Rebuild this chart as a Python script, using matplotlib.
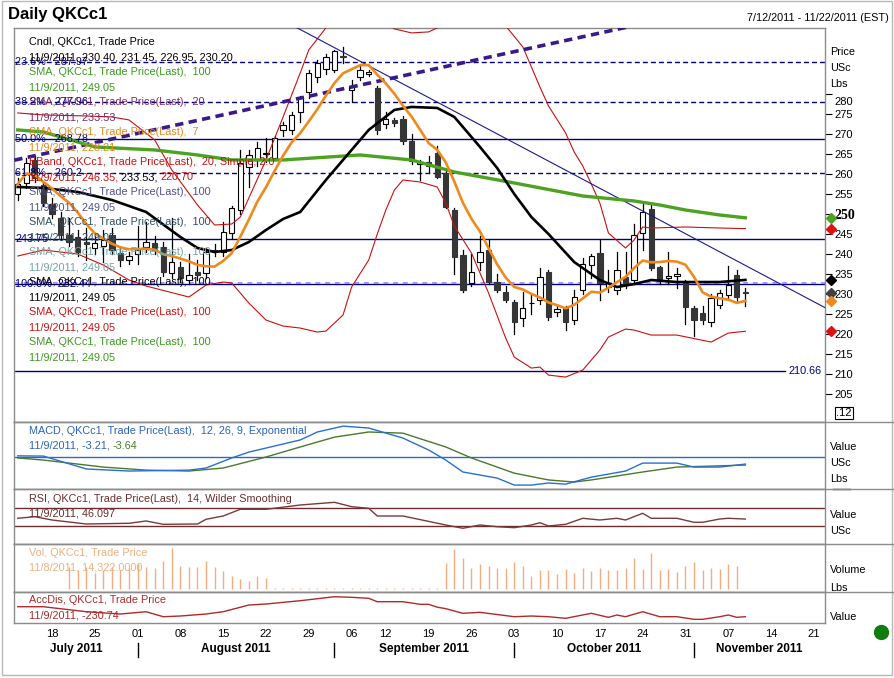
"""Daily QKCc1 candle chart with MACD, RSI, volume and AccDis panels."""
import numpy as np
import pandas as pd
import matplotlib
matplotlib.use("Agg")
import matplotlib.pyplot as plt
import matplotlib.transforms as mtransforms
from matplotlib.lines import Line2D
from matplotlib.patches import Rectangle

plt.rcParams["font.family"] = ["Liberation Sans", "DejaVu Sans"]

W, H = 895, 678

# --- trading days on the axis (Labor Day skipped) ---
days = pd.bdate_range("2011-07-12", "2011-11-22")
days = days[days != pd.Timestamp("2011-09-05")]

# --- daily candles, 7/12/2011 .. 11/9/2011 ---
opens = [255.0, 257.75, 263.5, 257.25, 252.5, 249.0, 244.75, 244.25, 243.0, 241.5,
         242.0, 244.75, 240.25, 238.5, 240.0, 241.75, 242.75, 241.75, 235.25, 236.75,
         233.5, 235.5, 235.25, 241.0, 240.5, 245.25, 251.0, 261.75, 263.5, 265.0,
         264.0, 271.0, 271.0, 275.5, 280.5, 284.25, 286.25, 286.0, 289.5, 281.0,
         284.25, 285.0, 281.5, 272.5, 273.5, 273.75, 268.25, 262.5, 263.0, 265.25,
         260.25, 251.0, 239.75, 232.75, 238.0, 241.0, 233.0, 230.5, 228.0, 224.0,
         227.75, 228.5, 235.5, 225.5, 226.5, 223.5, 231.0, 237.25, 240.25, 231.75,
         231.0, 234.25, 233.5, 245.25, 251.25, 236.75, 234.0, 234.5, 233.0, 226.5,
         225.25, 223.0, 227.25, 229.75, 234.75, 230.40]
highs = [259.0, 264.0, 264.5, 258.0, 254.0, 250.5, 249.0, 246.0, 246.5, 244.5,
         246.0, 246.5, 241.5, 240.5, 247.0, 248.0, 244.5, 243.0, 249.0, 238.0,
         240.0, 238.5, 241.5, 242.5, 248.0, 252.0, 266.0, 266.0, 268.0, 269.0,
         269.5, 273.0, 275.5, 279.5, 286.0, 288.5, 290.0, 291.0, 291.75, 283.5,
         287.0, 286.0, 282.0, 275.5, 274.0, 274.5, 270.0, 263.5, 264.5, 267.0,
         261.0, 251.5, 241.0, 240.0, 244.5, 243.5, 235.0, 232.0, 228.5, 230.5,
         230.0, 236.5, 236.0, 227.0, 227.0, 231.0, 239.0, 240.0, 243.5, 236.0,
         240.5, 240.5, 247.5, 252.5, 252.5, 237.0, 240.5, 236.5, 233.5, 227.0,
         227.0, 230.0, 231.0, 237.0, 236.0, 231.45]
lows = [253.5, 256.5, 258.0, 252.0, 249.0, 243.5, 242.0, 239.5, 238.5, 240.0,
        238.0, 240.0, 237.0, 237.5, 237.5, 240.5, 240.0, 234.5, 234.0, 233.0,
        232.5, 233.5, 234.0, 239.5, 239.5, 244.0, 250.0, 256.75, 262.0, 263.0,
        263.5, 269.5, 270.0, 273.0, 279.0, 283.0, 285.0, 285.5, 287.75, 278.0,
        283.5, 284.5, 270.0, 271.5, 272.0, 267.5, 262.5, 258.5, 260.5, 259.0,
        251.5, 235.0, 230.5, 232.0, 236.0, 232.5, 230.5, 228.0, 220.0, 222.0,
        225.0, 227.5, 223.5, 224.5, 221.0, 222.5, 230.0, 234.0, 228.5, 230.5,
        230.0, 231.5, 232.5, 241.0, 236.0, 232.5, 232.5, 231.5, 222.5, 219.5,
        222.5, 222.0, 226.5, 229.0, 228.0, 226.95]
closes = [257.5, 262.75, 259.0, 252.75, 250.0, 244.75, 243.0, 240.5, 242.5, 242.75,
          243.5, 241.0, 238.5, 239.5, 241.0, 243.0, 241.0, 235.5, 238.0, 234.0,
          234.75, 234.75, 240.5, 240.5, 245.5, 251.5, 262.75, 264.75, 266.5, 265.25,
          269.0, 272.25, 274.75, 279.0, 285.25, 287.75, 289.25, 290.75, 289.25, 282.0,
          286.0, 285.5, 271.0, 273.75, 272.75, 268.25, 263.25, 263.0, 262.0, 259.25,
          251.75, 239.25, 231.0, 235.5, 240.5, 233.0, 231.0, 228.5, 223.0, 226.5,
          227.75, 234.25, 224.25, 226.25, 223.0, 229.25, 237.5, 239.5, 232.75, 232.75,
          236.0, 232.25, 244.75, 250.5, 236.5, 233.25, 234.5, 235.0, 226.75, 223.5,
          223.5, 229.0, 230.25, 232.25, 229.25, 230.20]
nan = np.nan
volumes = [nan, nan, nan, nan, nan, nan,
           13700, 11700, 13700, 9650, 11700, 13700, 11700, 12700, 15200, 13700,
           12700, 17400, 25000, 14100, 13300, 13700, 17400, 13700, 11200, 8200,
           6150, 5100, 8200, 6950,
           400, 400, 400, 400, 400, 400, 400, 400, 400, 400,
           400, 400, 400, 400, 400, 400, 400, 400, 400, 400,
           15800, 24400, 19200, 13100, 15200, 14100, 13100, 13100, 16800, 14100,
           8200, 11700, 11700, 9000, 12300, 10000, 13100, 11100, 13100, 11700,
           11700, 12700, 19200, 12300, 21900, 11700, 12300, 10600, 14300, 16800,
           11700, 13100, 12300, 15200, 14322, nan]

# --- indicator values read at sample days (index into days) ---
sma20_day = [0, 3, 7, 11, 15, 19, 21, 23, 25, 27, 29, 31, 33, 36, 38, 39, 41, 44, 46,
             49, 51, 54, 56, 58, 60, 62, 65, 68, 70, 72, 74, 77, 82, 85]
sma20_val = [256.75, 256.5, 255.5, 253.5, 250.5, 244.25, 241.5, 240.5, 241.0, 243.0,
             246.0, 248.75, 250.5, 258.5, 263.5, 266.0, 271.0, 276.0, 276.75,
             276.5, 274.25, 266.75, 261.5, 255.0, 249.25, 245.0, 238.0, 233.5,
             231.75, 232.5, 233.5, 233.0, 233.0, 233.53]
sma100_day = [0, 3, 9, 16, 21, 25, 31, 36, 40, 46, 51, 58, 66, 72, 75, 78, 82, 85]
sma100_val = [271.0, 270.5, 266.75, 266.0, 264.75, 263.5, 263.5, 264.2, 264.75, 263.5,
              260.5, 257.75, 254.5, 253.25, 252.25, 251.0, 249.75, 249.05]
bb_up_day = [0, 3, 8, 11, 13, 16, 18, 21, 23, 25, 26, 29, 31, 33, 34, 36, 38, 40, 42,
             43, 44, 46, 48, 49, 51, 53, 55, 57, 59, 61, 62, 64, 65, 66, 67, 68, 69,
             71, 72, 73, 74, 78, 82, 85]
bb_up_val = [275.25, 274.75, 274.5, 274.25, 273.5, 268.5, 261.0, 252.25, 247.25, 247.5,
             249.25, 263.5, 274.25, 285.25, 291.0, 296.5, 301.0, 302.0, 300.0, 298.0,
             296.25, 295.25, 295.5, 296.5, 299.0, 300.0, 299.0, 297.0, 291.75, 281.75,
             277.0, 270.25, 265.5, 262.0, 257.5, 252.75, 245.25, 241.5, 243.5, 246.75,
             246.5, 246.75, 246.5, 246.35]
bb_lo_day = [0, 3, 7, 10, 13, 15, 20, 22, 24, 25, 27, 29, 31, 33, 35, 36, 38, 39, 41,
             42, 43, 44, 45, 47, 49, 50, 51, 53, 55, 57, 58, 60, 61, 62, 64, 66, 68,
             69, 71, 72, 74, 77, 81, 83, 85]
bb_lo_val = [239.5, 241.0, 240.0, 237.25, 233.5, 232.0, 229.25, 232.25, 233.0, 232.75,
             227.75, 223.5, 222.0, 221.5, 220.5, 220.75, 224.75, 231.75, 238.5, 245.0,
             251.0, 256.0, 258.5, 258.0, 256.75, 252.75, 247.0, 240.25, 230.25, 219.0,
             214.25, 211.5, 211.75, 209.75, 209.25, 211.0, 216.0, 219.25, 221.25, 221.0,
             219.75, 219.75, 218.0, 220.25, 220.70]
macd_day = [0, 3, 8, 13, 20, 22, 25, 27, 33, 35, 38, 41, 45, 48, 50, 52, 56, 58, 60,
            62, 64, 67, 71, 73, 77, 79, 82, 85]
macd_val = [0.3, 0.2, -5.3, -6.2, -5.8, -4.9, -0.6, 1.9, 7.1, 10.5, 13.0, 12.2, 7.9,
            2.8, -1.5, -6.6, -9.2, -12.2, -12.2, -11.3, -11.8, -8.8, -6.2, -2.8, -2.8,
            -4.5, -4.5, -3.21]
signal_day = [0, 3, 10, 15, 20, 24, 29, 33, 37, 41, 45, 50, 53, 58, 62, 65, 67, 73,
              77, 85]
signal_val = [-0.6, -1.5, -4.5, -5.8, -6.2, -4.9, -0.2, 4.1, 8.3, 10.5, 10.0, 4.1,
              -0.6, -7.1, -10.0, -10.9, -10.0, -6.6, -4.5, -3.64]
rsi_day = [0, 2, 4, 8, 13, 15, 17, 21, 22, 24, 26, 29, 33, 37, 39, 41, 42, 45, 50, 52,
           54, 56, 58, 60, 61, 62, 64, 66, 68, 70, 71, 73, 74, 77, 79, 80, 82, 83, 85]
rsi_val = [47.8, 51.3, 44.0, 35.1, 36.7, 41.8, 34.4, 35.1, 45.6, 52.9, 67.8, 67.8,
           77.3, 83.3, 73.6, 70.0, 52.9, 52.9, 32.9, 25.6, 32.9, 29.1, 26.9, 32.9,
           38.0, 30.7, 34.4, 47.8, 44.0, 47.8, 44.0, 58.9, 47.8, 47.8, 38.9, 38.9,
           46.2, 47.8, 46.097]
accdis_day = [0, 3, 8, 12, 15, 17, 19, 22, 24, 27, 29, 33, 37, 39, 41, 42, 45, 47, 48,
              49, 50, 52, 54, 58, 60, 62, 64, 67, 69, 70, 71, 73, 75, 77, 79, 80, 82,
              83, 84, 85]
accdis_val = [-31, -31, -131, -177, -131, -231, -217, -177, -131, 3, 23, 89, 169, 157,
              137, 69, 69, 17, 17, -40, -70, -163, -143, -231, -217, -231, -263, -163,
              -243, -197, -231, -131, -231, -231, -283, -283, -231, -197, -243, -230.74]

# --- drawn studies: retracement levels and trend lines ---
fib_levels = [287.97, 277.96, 268.78, 260.2, 243.75, 232.44, 210.66]
fib_labels = ["23.6%   287.97", "38.2%   277.96", "50.0%   268.78", "61.8%   260.2",
              "243.75", "100.0%  232.44", ""]
fib_dashed = [True, True, False, True, False, False, False]
trend_up_x, trend_up_y = [-0.4, 72.5], [263.45, 297.3]
trend_dn_x, trend_dn_y = [30.0, 94.3], [299.5, 226.6]

x = np.arange(len(closes))
sma7 = pd.Series(closes).rolling(7, min_periods=1).mean().to_numpy()

NAVY = "#000080"
GRID = "#8c8c8c"
FS = 7.8


def fy(y):
    return 1 - y / H


def fx(xp):
    return xp / W


fig = plt.figure(figsize=(W / 100, H / 100), dpi=100)
left, right = 14.3, 825.0


def panel(top, bottom):
    return fig.add_axes([fx(left), fy(bottom), fx(right - left), (bottom - top) / H])


ax = panel(28.3, 421.7)
ax_macd = panel(421.7, 489.3)
ax_rsi = panel(489.3, 544.3)
ax_vol = panel(544.3, 592.3)
ax_acc = panel(592.3, 623.3)
for a in [ax, ax_macd, ax_rsi, ax_vol, ax_acc]:
    a.set_xlim(-0.4, 94.3)
    for s in a.spines.values():
        s.set_color(GRID)
        s.set_linewidth(1)
    a.set_xticks([])
    a.set_yticks([])

# --- main price panel ---
ax.set_ylim(198.1, 296.4)
for lvl, lab, dash in zip(fib_levels, fib_labels, fib_dashed):
    ls = (0, (3.6, 2.2)) if dash else "-"
    xmax = 89.6 if lvl == fib_levels[-1] else 94.3
    ax.plot([-0.4, xmax], [lvl, lvl], color=NAVY, lw=1, ls=ls, zorder=1)
    if lab:
        ax.text(-0.3, lvl, lab, color=NAVY, fontsize=FS, va="center", ha="left", zorder=6)
ax.text(90.0, fib_levels[-1], "210.66", color=NAVY, fontsize=FS, va="center", ha="left")
ax.plot([-0.4, 94.3], [232.8, 232.8], color="#a58cff", lw=1.4, ls=(0, (2.5, 2.5)), zorder=1)

ax.plot(bb_up_day, bb_up_val, color="#cc1010", lw=0.8, zorder=3)
ax.plot(bb_lo_day, bb_lo_val, color="#cc1010", lw=0.8, zorder=3)
ax.plot(trend_up_x, trend_up_y, color="#3a1a8a", lw=2.6, ls=(0, (2.3, 1.5)), zorder=3)
ax.plot(trend_dn_x, trend_dn_y, color="#1a1a90", lw=0.8, zorder=3)

# candles
for i in range(len(closes)):
    o, h, l, c = opens[i], highs[i], lows[i], closes[i]
    ax.plot([i, i], [l, h], color="black", lw=0.9, zorder=2)
    up = c >= o
    body = max(abs(c - o), 0.12)
    ax.bar(i, body, bottom=min(o, c), width=0.62,
           color="white" if up else "#363636",
           edgecolor="black" if up else "#363636", lw=0.8, zorder=2)

ax.plot(sma100_day, sma100_val, color="#4ca321", lw=2.4, zorder=4)
ax.plot(sma20_day, sma20_val, color="black", lw=1.9, zorder=4)
ax.plot(x, sma7, color="#f08a1c", lw=1.9, zorder=4)

# last-value diamonds on the price scale
last_marks = [(sma100_val[-1], "#4ca321"), (bb_up_val[-1], "#e01010"),
              (sma20_val[-1], "black"), (closes[-1], "#404040"),
              (sma7[-1], "#f08a1c"), (bb_lo_val[-1], "#e01010")]
for v, col in last_marks:
    ax.plot([94.95], [v], marker="D", ms=5, color=col, clip_on=False, zorder=7)

ax.yaxis.set_ticks_position("right")
ax.set_yticks(np.arange(205, 285, 5))
ax.tick_params(axis="y", direction="out", length=5, width=0.8, labelsize=8, pad=2,
               colors="black")
for lab in ax.get_yticklabels():
    if lab.get_text() == "250":
        lab.set_fontweight("bold")
        lab.set_fontfamily("Liberation Serif")
        lab.set_fontsize(10)
    if lab.get_text() == "280":
        lab.set_transform(lab.get_transform() +
                          mtransforms.ScaledTranslation(0, -5 / 72, fig.dpi_scale_trans))

# legend rows in the price panel
rows = [
    ("Cndl, QKCc1, Trade Price", "black"),
    ("11/9/2011, 230.40, 231.45, 226.95, 230.20", "black"),
    ("SMA, QKCc1, Trade Price(Last),  100", "#3c9a1e"),
    ("11/9/2011, 249.05", "#3c9a1e"),
    ("SMA, QKCc1, Trade Price(Last),  20", "#7a2a6a"),
    ("11/9/2011, 233.53", "#7a2a6a"),
    ("SMA, QKCc1, Trade Price(Last),  7", "#e8891c"),
    ("11/9/2011, 228.21", "#e8891c"),
    ("BBand, QKCc1, Trade Price(Last),  20, Simple, 2.0", "#cc1111"),
    (None, None),
    ("SMA, QKCc1, Trade Price(Last),  100", "#50508c"),
    ("11/9/2011, 249.05", "#50508c"),
    ("SMA, QKCc1, Trade Price(Last),  100", "#2f4f5f"),
    ("11/9/2011, 249.05", "#2f4f5f"),
    ("SMA, QKCc1, Trade Price(Last),  100", "#72a4a4"),
    ("11/9/2011, 249.05", "#72a4a4"),
    ("SMA, QKCc1, Trade Price(Last),  100", "black"),
    ("11/9/2011, 249.05", "black"),
    ("SMA, QKCc1, Trade Price(Last),  100", "#cc1111"),
    ("11/9/2011, 249.05", "#cc1111"),
    ("SMA, QKCc1, Trade Price(Last),  100", "#3c9a1e"),
    ("11/9/2011, 249.05", "#3c9a1e"),
]


def chain(xp, yp, parts):
    # several colours on one line: each piece starts where the previous ends
    prev = fig.text(fx(xp), fy(yp), parts[0][0], color=parts[0][1], fontsize=FS,
                    va="center", zorder=8)
    for s, col in parts[1:]:
        prev = fig.add_artist(plt.Annotation(s, xy=(1, 0.5), xycoords=prev,
                                             va="center", ha="left", color=col,
                                             fontsize=FS))
    return prev


for k, (s, col) in enumerate(rows):
    yp = 42.3 + 15 * k
    if s is None:
        chain(29, yp, [("11/9/2011, 246.35, ", "#cc1111"), ("233.53, ", "black"),
                       ("220.70", "#cc1111")])
    else:
        fig.text(fx(29), fy(yp), s, color=col, fontsize=FS, va="center", zorder=8)

# --- MACD ---
ax_macd.set_ylim(-14.0, 14.9)
ax_macd.axhline(0, color="#3068c8", lw=1)
ax_macd.plot(signal_day, signal_val, color="#4a7a2a", lw=1)
ax_macd.plot(macd_day, macd_val, color="#2a6fd0", lw=1)
fig.text(fx(29), fy(431), "MACD, QKCc1, Trade Price(Last),  12, 26, 9, Exponential",
         color="#2a62c0", fontsize=FS, va="center")
chain(29, 446, [("11/9/2011, -3.21, ", "#2a62c0"), ("-3.64", "#4a7a2a")])

# --- RSI ---
ax_rsi.set_ylim(-10, 112.2)
for lvl in (70, 30):
    ax_rsi.axhline(lvl, color="#6b2d2d", lw=1)
ax_rsi.plot(rsi_day, rsi_val, color="#7a3a3a", lw=1)
fig.text(fx(29), fy(499), "RSI, QKCc1, Trade Price(Last),  14, Wilder Smoothing",
         color="#6b2d2d", fontsize=FS, va="center")
fig.text(fx(29), fy(514), "11/9/2011, 46.097", color="#6b2d2d", fontsize=FS, va="center")

# --- Volume ---
ax_vol.set_ylim(-2030, 27490)
vol = np.array(volumes, dtype=float)
ok = ~np.isnan(vol)
ax_vol.vlines(x[ok], 0, vol[ok], color="#f2ad80", lw=1)
fig.text(fx(29), fy(553), "Vol, QKCc1, Trade Price", color="#f0b080", fontsize=FS,
         va="center")
fig.text(fx(29), fy(568), "11/8/2011, 14,322.0000", color="#f0b080", fontsize=FS,
         va="center")

# --- AccDis ---
ax_acc.set_ylim(-362.7, 257.3)
ax_acc.plot(accdis_day, accdis_val, color="#b02a2a", lw=1)
fig.text(fx(29), fy(600), "AccDis, QKCc1, Trade Price", color="#b02a2a", fontsize=FS,
         va="center")
fig.text(fx(29), fy(615), "11/9/2011, -230.74", color="#b02a2a", fontsize=FS,
         va="center")

# --- date axis ---
week_start = [i for i in range(1, len(days)) if days[i].week != days[i - 1].week]
ax_acc.set_xticks(week_start)
ax_acc.set_xticklabels([days[i].strftime("%d") for i in week_start])
ax_acc.tick_params(axis="x", length=0, pad=4, labelsize=8)

month_start = [i for i in range(1, len(days)) if days[i].month != days[i - 1].month]
bounds = [-0.4] + month_start + [94.3]
blend = mtransforms.blended_transform_factory(ax_acc.transData, fig.transFigure)
for a, b in zip(bounds[:-1], bounds[1:]):
    d = days[max(int(np.ceil(a)), 0)]
    ax_acc.text((a + b) / 2, fy(649), d.strftime("%B %Y"), transform=blend,
                ha="center", va="center", fontsize=8.5, fontweight="bold")
for m in month_start:
    fig.add_artist(Line2D([m, m], [fy(643), fy(657)], transform=blend, color="black",
                          lw=1))

# --- right-hand captions ---
for txt, yp in [("Price", 52), ("USc", 68), ("Lbs", 84),
                ("Value", 447), ("USc", 463), ("Lbs", 479),
                ("Value", 515), ("USc", 531),
                ("Volume", 570), ("Lbs", 588), ("Value", 617)]:
    fig.text(fx(830), fy(yp), txt, fontsize=FS, va="center")
fig.add_artist(Line2D([fx(833), fx(850)], [fy(488.5), fy(488.5)], color="black", lw=1))
fig.text(fx(836), fy(413), ".12", fontsize=8, va="center",
         bbox=dict(boxstyle="square,pad=0.1", fc="white", ec="black", lw=0.8))

# panel separators run to the right edge
for yp in (421.7, 489.3, 544.3, 592.3):
    fig.add_artist(Line2D([fx(left), 1], [fy(yp), fy(yp)], color=GRID, lw=1))

# header
fig.text(fx(8), fy(14), "Daily QKCc1", fontsize=12, fontweight="bold", va="center")
fig.text(fx(889), fy(18), "7/12/2011 - 11/22/2011 (EST)", fontsize=FS, va="center",
         ha="right")
fig.add_artist(Line2D([fx(881)], [fy(632)], marker="o", ms=10, color="#0e7d0e"))
fig.add_artist(Rectangle((fx(2), fy(675)), fx(890), 674 / H, fill=False,
                         ec="#b8b8b8", lw=1, transform=fig.transFigure))

fig.savefig("out.png", dpi=100)
